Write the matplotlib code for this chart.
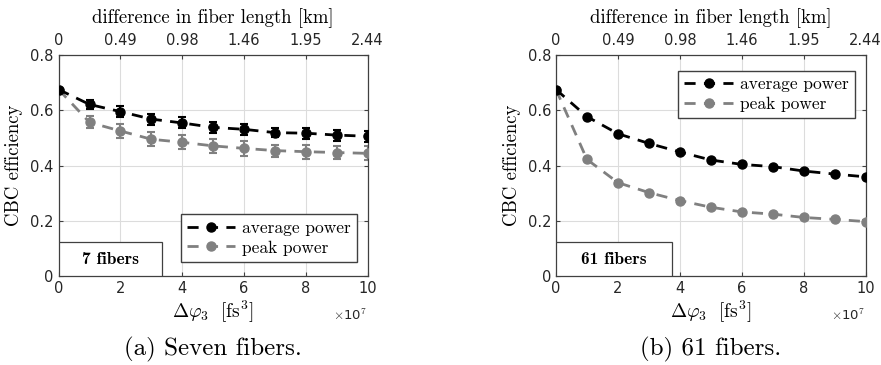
import matplotlib.pyplot as plt

plt.rcParams['mathtext.fontset'] = 'cm'
plt.rcParams['font.family'] = 'DejaVu Sans'

# Data
dphi = [0, 1, 2, 3, 4, 5, 6, 7, 8, 9, 10]  # x 1e7 fs^3
top_ticks = [0, 2, 4, 6, 8, 10]
top_labels = ["0", "0.49", "0.98", "1.46", "1.95", "2.44"]

avg7 = [0.675, 0.621, 0.595, 0.568, 0.554, 0.538, 0.531, 0.519, 0.517, 0.510, 0.506]
avg7_err = [0.0, 0.015, 0.02, 0.02, 0.02, 0.02, 0.02, 0.017, 0.02, 0.02, 0.02]
peak7 = [0.675, 0.556, 0.525, 0.495, 0.484, 0.471, 0.462, 0.454, 0.450, 0.447, 0.444]
peak7_err = [0.0, 0.022, 0.025, 0.025, 0.025, 0.025, 0.028, 0.022, 0.025, 0.025, 0.025]

avg61 = [0.675, 0.577, 0.515, 0.480, 0.449, 0.420, 0.404, 0.396, 0.380, 0.369, 0.359]
avg61_err = [0.0, 0.004, 0.004, 0.004, 0.004, 0.004, 0.004, 0.004, 0.004, 0.004, 0.004]
peak61 = [0.675, 0.422, 0.338, 0.302, 0.273, 0.249, 0.232, 0.224, 0.212, 0.205, 0.197]
peak61_err = [0.0, 0.005, 0.006, 0.006, 0.005, 0.005, 0.005, 0.005, 0.005, 0.005, 0.005]

panels = [
    dict(avg=avg7, avg_err=avg7_err, peak=peak7, peak_err=peak7_err,
         box="7 fibers", box_w=3.35, caption="(a) Seven fibers.",
         pos=[0.0666, 0.2438, 0.3507, 0.6055], leg=(0.395, 0.065)),
    dict(avg=avg61, avg_err=avg61_err, peak=peak61, peak_err=peak61_err,
         box="61 fibers", box_w=3.73, caption="(b) 61 fibers.",
         pos=[0.6311, 0.2438, 0.3515, 0.6055], leg=(0.395, 0.715)),
]

axis_col = '#404040'
gray = '#808080'

fig = plt.figure(figsize=(8.81, 3.65), dpi=100)

for p in panels:
    ax = fig.add_axes(p["pos"])
    ax.errorbar(dphi, p["peak"], yerr=p["peak_err"], fmt='none', ecolor=gray,
                elinewidth=1.5, capsize=3, capthick=1.5, zorder=2)
    ax.errorbar(dphi, p["avg"], yerr=p["avg_err"], fmt='none', ecolor='black',
                elinewidth=1.5, capsize=3, capthick=1.5, zorder=3)
    l1, = ax.plot(dphi, p["avg"], '--', color='black', lw=2, marker='o',
                  markersize=6.5, dashes=(4, 3), zorder=4, label='average power')
    l2, = ax.plot(dphi, p["peak"], '--', color=gray, lw=2, marker='o',
                  markersize=6.5, dashes=(4, 3), zorder=3, label='peak power')

    ax.set_xlim(0, 10)
    ax.set_ylim(0, 0.8)
    ax.set_xticks([0, 2, 4, 6, 8, 10])
    ax.set_yticks([0, 0.2, 0.4, 0.6, 0.8])
    ax.set_yticklabels(["0", "0.2", "0.4", "0.6", "0.8"])
    ax.grid(True, color='#dcdcdc', lw=0.8)
    ax.set_axisbelow(True)
    for s in ax.spines.values():
        s.set_color(axis_col)
        s.set_linewidth(0.9)
    ax.tick_params(direction='in', length=3, labelsize=10.5, colors=axis_col,
                   labelcolor='#262626', right=True)

    ax.set_xlabel(r'$\Delta\varphi_3\ \ [\mathrm{fs}^3]$', fontsize=14,
                  labelpad=2)
    ax.set_ylabel('CBC efficiency', family='cmr10', fontsize=13.5, labelpad=5)
    ax.text(1.0, -0.18, r'$\times$10$^7$', transform=ax.transAxes,
            ha='right', va='center', fontsize=9.5, color='#262626')

    ax.legend(handles=[l1, l2], loc='lower left', bbox_to_anchor=p["leg"],
              prop={'family': 'cmr10', 'size': 12.5}, frameon=True,
              fancybox=False, edgecolor=axis_col, framealpha=1,
              handlelength=2.8, handletextpad=0.4, borderpad=0.35,
              labelspacing=0.25, borderaxespad=0)

    ax.add_patch(plt.Rectangle((0, 0), p["box_w"], 0.124, facecolor='white',
                               edgecolor=axis_col, lw=0.9, zorder=5))
    ax.text(p["box_w"] / 2, 0.06, p["box"], ha='center', va='center',
            family='cmb10', fontsize=12.5, zorder=6)

    top = ax.twiny()
    top.set_xlim(0, 10)
    top.set_xticks(top_ticks)
    top.set_xticklabels(top_labels)
    top.tick_params(direction='in', length=3, labelsize=10.5, colors=axis_col,
                    labelcolor='#262626', pad=5)
    for s in top.spines.values():
        s.set_visible(False)
    top.set_xlabel('difference in fiber length [km]', family='cmr10',
                   fontsize=13.5, labelpad=7)

    fig.text(p["pos"][0] + p["pos"][2] / 2, 0.042, p["caption"],
             ha='center', va='center', family='cmr10', fontsize=18)

fig.savefig('out.png', dpi=100)
